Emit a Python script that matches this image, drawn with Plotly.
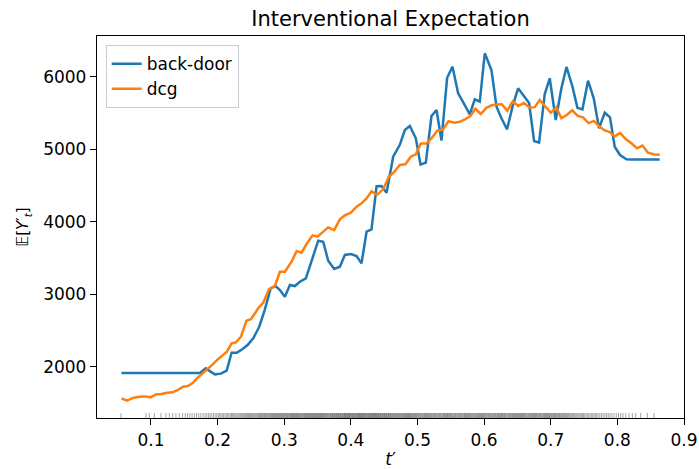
import plotly.graph_objects as go

# ---- data ----
T_BACKDOOR = [0.0557, 0.10, 0.15, 0.1735, 0.182, 0.196, 0.205, 0.2136, 0.221, 0.2286,
              0.237, 0.245, 0.2535, 0.2625, 0.271, 0.2796, 0.287, 0.2935, 0.301, 0.3085,
              0.316, 0.3235, 0.3325, 0.341, 0.351, 0.3585, 0.366, 0.375, 0.3835, 0.391,
              0.40, 0.4086, 0.416, 0.4236, 0.431, 0.4386, 0.446, 0.4536, 0.4635, 0.4735,
              0.481, 0.4885, 0.4975, 0.5046, 0.5125, 0.521, 0.5286, 0.536, 0.5445, 0.5526,
              0.561, 0.5695, 0.5785, 0.586, 0.5935, 0.601, 0.611, 0.6186, 0.626, 0.6345,
              0.6426, 0.651, 0.6585, 0.6675, 0.675, 0.6825, 0.691, 0.6985, 0.7075, 0.716,
              0.7236, 0.7326, 0.74, 0.7476, 0.756, 0.7645, 0.7725, 0.781, 0.789, 0.796,
              0.804, 0.8136, 0.8215, 0.8635]
Y_BACKDOOR = [1915, 1915, 1915, 1915, 1977, 1895, 1905, 1945, 2193, 2193,
              2240, 2299, 2391, 2552, 2790, 3080, 3113, 3058, 2966, 3127,
              3113, 3172, 3219, 3472, 3738, 3724, 3462, 3348, 3379, 3541,
              3554, 3527, 3426, 3862, 3895, 4490, 4492, 4400, 4897, 5060,
              5265, 5320, 5150, 4788, 4814, 5458, 5541, 5120, 5985, 6138,
              5771, 5633, 5480, 5688, 5655, 6323, 6092, 5586, 5426, 5274,
              5586, 5840, 5748, 5637, 5113, 5090, 5760, 5978, 5403, 5840,
              6134, 5863, 5570, 5550, 5945, 5702, 5288, 5503, 5440, 5034,
              4920, 4861, 4858, 4858]

T_DCG = [0.0558, 0.064, 0.073, 0.082, 0.091, 0.0993, 0.1075, 0.1158, 0.124, 0.1323,
         0.1405, 0.148, 0.1555, 0.163, 0.169, 0.1765, 0.184, 0.1915, 0.199, 0.2065,
         0.214, 0.221, 0.2275, 0.235, 0.2433, 0.25, 0.261, 0.2685, 0.277, 0.286,
         0.2935, 0.301, 0.311, 0.3186, 0.326, 0.3336, 0.3426, 0.35, 0.3585, 0.366,
         0.375, 0.3835, 0.391, 0.40, 0.4086, 0.416, 0.4236, 0.431, 0.439, 0.4488,
         0.457, 0.4645, 0.4735, 0.4818, 0.49, 0.4975, 0.505, 0.5133, 0.5215, 0.5298,
         0.538, 0.5466, 0.5553, 0.5635, 0.571, 0.5793, 0.5868, 0.595, 0.6033, 0.6115,
         0.6198, 0.6265, 0.6348, 0.643, 0.6513, 0.6595, 0.6685, 0.676, 0.6835, 0.691,
         0.70, 0.7083, 0.716, 0.724, 0.7323, 0.7405, 0.7485, 0.7566, 0.7648, 0.7728,
         0.7803, 0.7885, 0.796, 0.804, 0.813, 0.821, 0.8295, 0.8376, 0.846, 0.8553,
         0.8635]
Y_DCG = [1565, 1532, 1570, 1586, 1591, 1578, 1619, 1623, 1641, 1647,
         1679, 1724, 1734, 1779, 1840, 1899, 1954, 2023, 2092, 2148,
         2207, 2322, 2336, 2414, 2634, 2654, 2806, 2883, 3068, 3113,
         3310, 3310, 3448, 3596, 3572, 3692, 3812, 3793, 3862, 3922,
         3885, 4033, 4088, 4124, 4207, 4254, 4322, 4420, 4368, 4450,
         4621, 4680, 4782, 4792, 4897, 4930, 5078, 5078, 5155, 5255,
         5270, 5385, 5366, 5378, 5410, 5458, 5558, 5485, 5570, 5605,
         5618, 5620, 5530, 5660, 5596, 5636, 5575, 5580, 5678, 5596,
         5503, 5577, 5426, 5472, 5536, 5458, 5440, 5360, 5390, 5316,
         5262, 5235, 5177, 5224, 5137, 5081, 5012, 5050, 4952, 4927,
         4925]

# rug: number of observed t' samples per 0.01-wide bin, starting at 0.05
RUG_BIN_START = 0.05
RUG_BIN_WIDTH = 0.01
RUG_COUNTS = [1, 0, 0, 0, 2, 1, 1, 2, 2, 2,
              3, 3, 3, 4, 4, 5, 5, 6, 6, 7,
              7, 8, 8, 9, 9, 9, 10, 9, 10, 10,
              10, 9, 10, 10, 11, 10, 11, 10, 11, 10,
              10, 9, 9, 10, 9, 8, 9, 8, 8, 9,
              8, 8, 9, 8, 9, 8, 8, 9, 8, 9,
              9, 8, 9, 8, 9, 8, 8, 7, 6, 6,
              5, 5, 4, 4, 3, 3, 2, 2, 1, 1,
              1, 0]

X_TICKS = [0.1, 0.2, 0.3, 0.4, 0.5, 0.6, 0.7, 0.8, 0.9]
X_TICK_TEXT = ["0.1", "0.2", "0.3", "0.4", "0.5", "0.6", "0.7", "0.8", "0.9"]
Y_TICKS = [2000, 3000, 4000, 5000, 6000]
Y_TICK_TEXT = ["2000", "3000", "4000", "5000", "6000"]

# ---- build rug sample positions ----
rug_x = []
for b, n in enumerate(RUG_COUNTS):
    lo = RUG_BIN_START + b * RUG_BIN_WIDTH
    for k in range(n):
        rug_x.append(lo + RUG_BIN_WIDTH * (k + 0.5) / n)

FONT = "DejaVu Sans"

fig = go.Figure()
fig.add_trace(go.Scatter(
    x=rug_x, y=[0.0065] * len(rug_x), yaxis="y2", mode="markers",
    marker=dict(symbol="line-ns", size=3.6,
                line=dict(width=1, color="rgba(0,0,0,0.35)")),
    showlegend=False, hoverinfo="skip"))
fig.add_trace(go.Scatter(x=T_BACKDOOR, y=Y_BACKDOOR, mode="lines", name="back-door",
                         line=dict(color="#1f77b4", width=2.5)))
fig.add_trace(go.Scatter(x=T_DCG, y=Y_DCG, mode="lines", name="dcg",
                         line=dict(color="#ff7f0e", width=2.5)))

axis_common = dict(showgrid=False, zeroline=False, showline=True, mirror=True,
                   automargin=False,
                   linecolor="black", linewidth=1.3, ticks="outside", ticklen=6,
                   tickwidth=1.3, tickcolor="black",
                   tickfont=dict(family=FONT, size=17, color="black"))

fig.update_layout(
    width=699, height=469,
    margin=dict(l=97, r=15, t=36, b=51, autoexpand=False),
    paper_bgcolor="white", plot_bgcolor="white",
    font=dict(family=FONT, size=17, color="black"),
    title=dict(text="Interventional Expectation", x=0.5, xref="paper", xanchor="center",
               y=1 - 19 / 469, yref="container", yanchor="middle",
               font=dict(family=FONT, size=21, color="black")),
    xaxis=dict(range=[0.019, 0.9], tickvals=X_TICKS, ticktext=X_TICK_TEXT,
               title=dict(text="<i>t</i>′", standoff=8,
                          font=dict(family=FONT, size=17, color="black")),
               **axis_common),
    yaxis=dict(range=[1293, 6561], tickvals=Y_TICKS, ticktext=Y_TICK_TEXT,
               title=dict(text="𝔼[<i>Y</i>′<sub><i>t</i></sub>]", standoff=10,
                          font=dict(family=FONT, size=15, color="black")),
               **axis_common),
    yaxis2=dict(range=[0, 1], overlaying="y", visible=False, fixedrange=True),
    legend=dict(x=0.0148, y=0.976, xanchor="left", yanchor="top",
                bgcolor="rgba(255,255,255,0.8)", bordercolor="rgb(204,204,204)",
                borderwidth=1, font=dict(family=FONT, size=17, color="black"),
                tracegroupgap=0),
    showlegend=True,
)

fig.write_html("out.html")
